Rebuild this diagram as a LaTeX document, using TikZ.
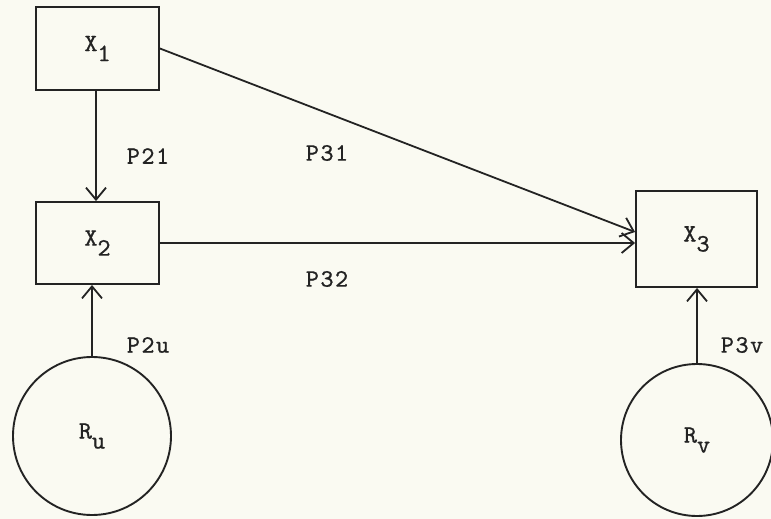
\documentclass[tikz,border=0pt]{standalone}
\usepackage{fontspec}
\usetikzlibrary{arrows.meta}
\definecolor{paper}{RGB}{250,250,242}
\definecolor{ink}{RGB}{35,35,35}
\newfontfamily\twfam{lmmono10-regular.otf}[LetterSpace=6,FakeBold=0.8]
\newcommand{\tw}{\twfam\fontsize{25pt}{29pt}\selectfont}
\newcommand{\sbs}[1]{\raisebox{-10pt}{#1}}
\tikzset{
  box/.style={draw=ink, line width=1.9pt, minimum width=123pt, minimum height=83pt, inner sep=0pt, font=\tw, text=ink},
  ring/.style={draw=ink, line width=1.9pt, circle, inner sep=0pt, font=\tw, text=ink},
  lbl/.style={font=\tw, text=ink, inner sep=0pt},
  conn/.style={draw=ink, line width=1.8pt, -{Straight Barb[length=12pt,width=20pt,line width=1.8pt]}}
}
\begin{document}
\begin{tikzpicture}[x=1pt,y=-1pt]
\fill[paper] (0,0) rectangle (771,519);
\useasboundingbox (0,0) rectangle (771,519);
\node[box] (X1) at (97.5,48.5) {X\sbs{1}};
\node[box, minimum height=82pt] (X2) at (97.5,243) {X\sbs{2}};
\node[box, minimum width=121pt, minimum height=96pt] (X3) at (696.5,239) {X\sbs{3}};
\node[ring, minimum size=158pt] (Ru) at (92,436) {R\sbs{u}};
\node[ring, minimum size=152pt] (Rv) at (697,440) {R\sbs{v}};
\node[lbl] (l21) at (148,156) {P21};
\node[lbl] (l31) at (327,153) {P31};
\node[lbl] (l32) at (327,279) {P32};
\node[lbl] (l2u) at (148,345) {P2u};
\node[lbl] (l3v) at (742,345) {P3v};
\draw[conn] ([xshift=-1.5pt]X1.south) -- ([xshift=-1.5pt]X2.north);
\draw[conn] (X1.east) -- ([yshift=7pt]X3.west);
\draw[conn] (X2.east) -- (X2.east -| X3.west);
\draw[conn] (Ru.north) -- (Ru.north |- X2.south);
\draw[conn] (Rv.north) -- (Rv.north |- X3.south);
\end{tikzpicture}
\end{document}
